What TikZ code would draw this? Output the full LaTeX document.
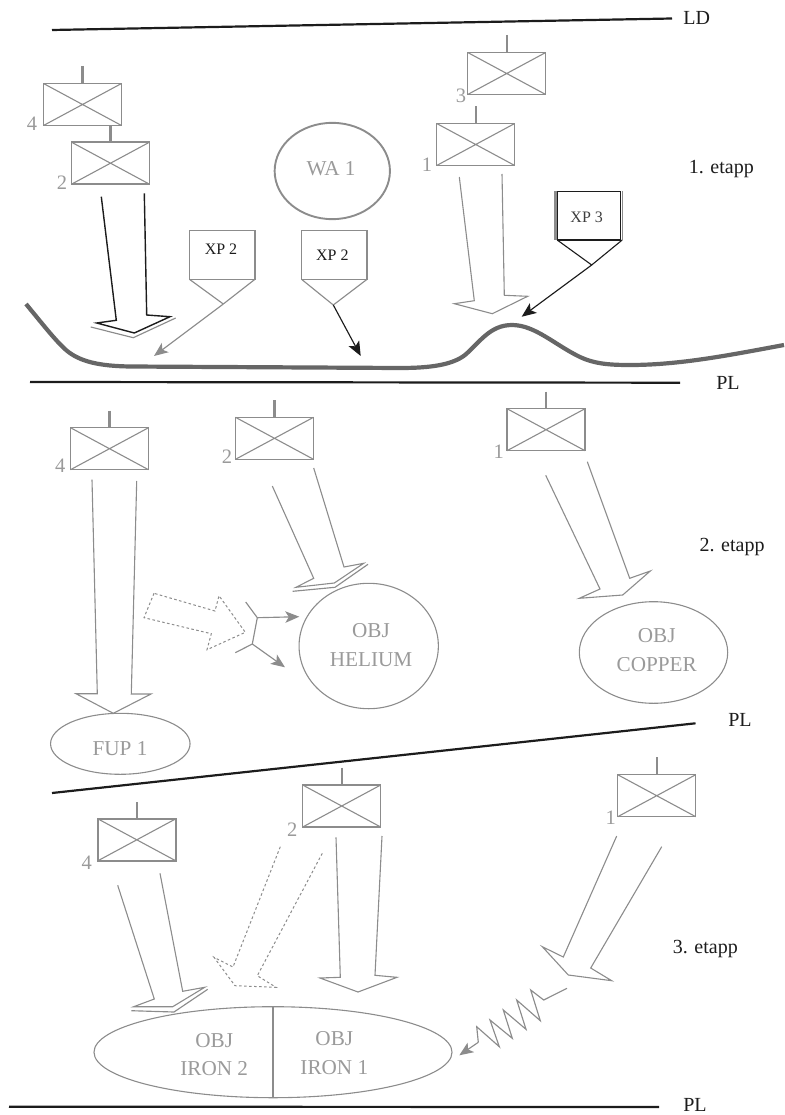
\documentclass[tikz,border=0pt]{standalone}
\usepackage{fontspec}
\setmainfont{Liberation Serif}
\usetikzlibrary{arrows.meta,shapes.geometric}
\definecolor{lin}{HTML}{8C8C8C}
\definecolor{txtg}{HTML}{9A9A9A}
\definecolor{blk}{HTML}{1C1C1C}
\definecolor{ter}{HTML}{666666}
\tikzset{
 unitbox/.style={draw=lin,line width=1.5pt,rectangle,minimum width=78pt,minimum height=42pt,inner sep=0pt,outer sep=0pt},
 cross/.style={draw=lin,line width=1.1pt},
 stem/.style={draw=lin,line width=2.2pt},
 band/.style={draw=blk,line width=2.2pt},
 lbl/.style={inner sep=0pt,anchor=base,text=txtg,font=\fontsize{20.5}{24}\selectfont},
 blab/.style={inner sep=0pt,anchor=base,text=blk,font=\fontsize{20}{24}\selectfont},
 graytxt/.style={inner sep=0pt,text=txtg,align=center,font=\fontsize{21.2}{28.7}\selectfont},
 xplab/.style={inner sep=0pt,text=blk,font=\fontsize{16}{19}\selectfont},
 xpbox/.style={draw=lin,line width=1.2pt,rectangle,minimum width=65.5pt,minimum height=48.6pt,inner sep=0pt,outer sep=0pt},
 obj/.style={draw=lin,line width=1.1pt,ellipse,inner sep=0pt,outer sep=0pt},
 fat/.style={draw=lin,line width=1.1pt,line join=miter,fill=none},
 fatb/.style={draw=blk,line width=1.4pt,line join=miter},
 dotty/.style={draw=lin,line width=1pt,dash pattern=on 2.6pt off 2.4pt},
 thin/.style={draw=lin,line width=1.15pt},
 garr/.style={draw=lin,line width=1.15pt,-{Stealth[length=14pt,width=11.5pt,inset=3.5pt]}},
 karr/.style={draw=blk,line width=1.15pt,-{Stealth[length=14.5pt,width=12pt,inset=3.5pt]}},
}
\newcommand{\ubox}[7]{% name, cx, cy, stem top y, label, label x, label baseline y
 \node[unitbox] (#1) at (#2,#3) {};
 \draw[cross] (#1.north west) -- (#1.south east) (#1.north east) -- (#1.south west);
 \coordinate (#1top) at (#2,#4);
 \draw[stem] (#1top) -- (#1.north);
 \node[lbl] (#1lab) at (#6,#7) {#5};
}
\begin{document}
\begin{tikzpicture}[x=1pt,y=-1pt]
\useasboundingbox (0,0) rectangle (784,1115);
% bands
\coordinate (ldL) at (52,30); \coordinate (ldR) at (672,18.5);
\coordinate (p1L) at (30,382); \coordinate (p1R) at (680,382.7);
\coordinate (p2L) at (52,793); \coordinate (p2R) at (695.5,723.3);
\coordinate (p3L) at (9,1106.7); \coordinate (p3R) at (659,1107);
\draw[band] (ldL) -- (ldR);
\draw[band] (p1L) -- (p1R);
\draw[band] (p2L) -- (p2R);
\draw[band] (p3L) -- (p3R);
\node[blab] (ld) at (696.7,24.5) {LD};
\node[blab] (pl1) at (728,389) {PL};
\node[blab] (pl2) at (740,726) {PL};
\node[blab] (pl3) at (695,1111) {PL};
\node[blab] (et1) at (721.3,173.3) {1. etapp};
\node[blab] (et2) at (732,551.7) {2. etapp};
\node[blab] (et3) at (705.3,953.3) {3. etapp};
% terrain
\draw[ter,line width=4.2pt] (26,304) .. controls (45,327) and (55,340) .. (66,350)
  .. controls (80,362) and (100,366) .. (130,366.5) -- (400,368)
  .. controls (430,368) and (452,365) .. (465,355)
  .. controls (480,342) and (490,325) .. (512,325)
  .. controls (535,325) and (555,345) .. (580,357)
  .. controls (595,364) and (610,365) .. (630,365)
  .. controls (680,365) and (730,355) .. (784,345);
% stage 1
\ubox{a4}{82.5}{104.5}{66}{4}{32}{131}
\ubox{a2}{110.5}{163.2}{125.5}{2}{62}{190}
\ubox{a3}{506.7}{73.5}{35}{3}{461}{103}
\ubox{a1}{475.7}{144.5}{106.5}{1}{427}{172}
\draw[fatb] (101.3,196.7) -- (116.3,320.3) -- (96.7,323) -- (134.3,333) -- (170,316.7) -- (146.7,315) -- (144.3,193.3);
\draw[thin] (90.7,327) -- (133.3,337.7) -- (175.7,318);
\draw[fat] (459.3,177) -- (474.3,300.7) -- (454.3,303.7) -- (492.3,313.7) -- (527.7,296.3) -- (504.3,295.3) -- (502,174);
\node[obj,line width=1.9pt,minimum width=115.3pt,minimum height=96.3pt] (wa) at (332.3,171) {};
\node[graytxt] (watxt) at (331,168.5) {WA 1};
% XP 2 left
\node[xpbox] (xa) at (222.2,255) {};
\node[xplab] (xatxt) at (221,249.3) {XP 2};
\coordinate (fa) at (223.3,304); \coordinate (ta) at (154,356);
\draw[thin] (xa.south west) -- (fa);
\draw[thin] (xa.south east) -- (fa);
\draw[garr] (fa) -- (ta);
% XP 2 right
\node[xpbox] (xb) at (334.3,255) {};
\node[xplab] (xbtxt) at (332.3,255.7) {XP 2};
\coordinate (fb) at (333.3,305); \coordinate (tb) at (360.7,356);
\draw[thin] (xb.south west) -- (fb);
\draw[thin] (xb.south east) -- (fb);
\draw[karr] (fb) -- (tb);
% XP 3
\draw[lin,line width=2.2pt] (555.5,191) -- (555.5,240);
\draw[lin,line width=1pt] (622.4,191) -- (622.4,240);
\node[rectangle,draw=blk,line width=1.4pt,minimum width=63pt,minimum height=48.6pt,inner sep=0pt,outer sep=0pt] (xc) at (588.7,215.7) {};
\node[xplab,text=blk!85] (xctxt) at (586.7,217.7) {XP 3};
\coordinate (fc) at (591.7,265); \coordinate (tc) at (521.7,316.7);
\draw[blk,line width=1.1pt] (xc.south west) -- (fc);
\draw[blk,line width=1.1pt] (xc.south east) ++(2,0) -- (fc);
\draw[karr] (fc) -- (tc);
% stage 2
\ubox{b4}{109.5}{448.7}{410.7}{4}{60.3}{472}
\ubox{b2}{274.5}{438.3}{400.3}{2}{227}{463}
\ubox{b1}{546}{429.7}{391.7}{1}{498.7}{458}
\draw[fat] (92,479.7) -- (97.3,693.7) -- (76,693.7) -- (113.3,713.3) -- (151,694) -- (131.3,694) -- (136.7,481);
\draw[fat] (272.3,486) -- (313.7,578.3) -- (296,587.3) -- (334.3,583) -- (363.7,563.3) -- (344,567) -- (313.7,468);
\draw[thin] (292.7,591.3) -- (335,587.3) -- (368,564.3);
\draw[fat] (545.7,475.3) -- (600,589) -- (579.3,598.3) -- (622.7,595) -- (650.3,571) -- (629.7,578.3) -- (587.3,461.7);
\node[obj,minimum width=139.5pt,minimum height=61pt] (fup) at (120.3,743.8) {};
\node[graytxt] (fuptxt) at (120,748.7) {FUP 1};
\node[obj,minimum width=139.3pt,minimum height=125.4pt] (he) at (368.7,646) {};
\node[graytxt] (hetxt) at (371,645) {OBJ\\HELIUM};
\node[obj,minimum width=148.4pt,minimum height=101.6pt] (cu) at (653.5,652.5) {};
\node[graytxt] (cutxt) at (656.7,650.2) {OBJ\\COPPER};
\draw[dotty] (154,593.3) -- (144,617.7) -- (211.3,633.7) -- (207,649.7) -- (245.3,632.3) -- (219,595.7) -- (215,611) -- cycle;
\coordinate (y1) at (245.7,602); \coordinate (y2) at (257.3,617.7);
\coordinate (y3) at (252.3,644); \coordinate (y4) at (235.3,652.7);
\draw[thin] (y1) -- (y2) -- (y3) -- (y4);
\coordinate (y5) at (299.3,616.7); \coordinate (y6) at (285,667.3);
\draw[garr] (y2) -- (y5);
\draw[garr] (y3) -- (y6);
% stage 3
\ubox{c4}{136.8}{839.8}{802}{4}{86.7}{869}
\ubox{c2}{341.7}{806}{767.7}{2}{292.3}{836}
\ubox{c1}{656.7}{795.7}{757.3}{1}{610.7}{824}
\draw[fat] (117.7,885.3) -- (154.3,999) -- (133.7,1006.7) -- (172.7,1006.7) -- (204.7,987.3) -- (182.7,991.3) -- (160,873.3);
\draw[thin] (131.3,1010.7) -- (174,1012) -- (207.7,989.3);
\draw[dotty] (280.3,846.7) -- (233,967) -- (214,957.3) -- (235,985.7) -- (276,987.3) -- (257.3,975.7) -- (322.3,853.3);
\draw[fat] (336,837.3) -- (340.3,977.3) -- (320,978) -- (358,992) -- (397,977.3) -- (375,975.3) -- (382,836);
\draw[fat] (616.7,836) -- (563.3,957) -- (542.3,946.7) -- (568.3,975) -- (611.7,980.7) -- (590.7,968) -- (661.7,846.7);
\node[obj,minimum width=358pt,minimum height=91pt] (fe) at (273,1052.2) {};
\draw[thin] (fe.north) -- (fe.south);
\node[graytxt] (fe2) at (214.2,1054.5) {OBJ\\IRON 2};
\node[graytxt] (fe1) at (334.3,1052.8) {OBJ\\IRON 1};
\coordinate (zs) at (567,988.3); \coordinate (zk) at (478.3,1042.3); \coordinate (zt) at (459.3,1055.3);
\draw[thin,line join=miter] (zs) -- (543.7,1000) -- (530.7,990) -- (540.3,1020.7) -- (516.7,1000) -- (526,1029.3) -- (503.3,1010) -- (512.3,1038.3) -- (490,1020) -- (499.3,1046.7) -- (476.7,1026.7) -- (zk);
\draw[garr] (zk) -- (zt);
\end{tikzpicture}
\end{document}
